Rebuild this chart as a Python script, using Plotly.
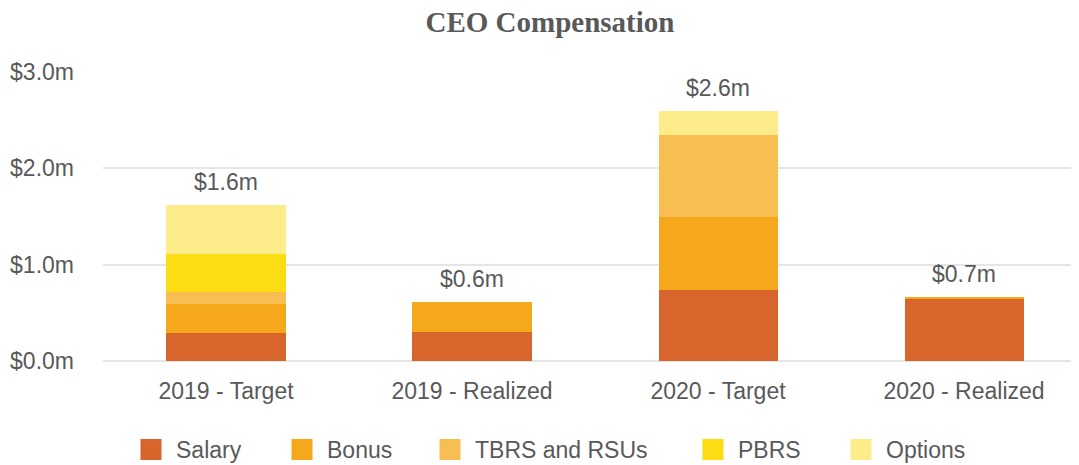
import plotly.graph_objects as go

categories = ["2019 - Target", "2019 - Realized", "2020 - Target", "2020 - Realized"]
series_names = ["Salary", "Bonus", "TBRS and RSUs", "PBRS", "Options"]
salary = [0.29, 0.30, 0.74, 0.645]
bonus = [0.30, 0.31, 0.75, 0.015]
tbrs_rsus = [0.13, 0.0, 0.86, 0.0]
pbrs = [0.39, 0.0, 0.0, 0.0]
options = [0.51, 0.0, 0.25, 0.0]
y_ticks = [0, 1, 2, 3]
y_tick_labels = ["$0.0m", "$1.0m", "$2.0m", "$3.0m"]

colors = ["#D8652B", "#F6A81C", "#F8BE52", "#FCDC12", "#FDEC8A"]
series = [salary, bonus, tbrs_rsus, pbrs, options]
legend_square_left = [136, 287, 435, 698, 846]  # page px of each legend key
gray = "#595959"
FONT = "Liberation Sans, Arial, sans-serif"
OFF = 8  # page body margin
W, H = 1079, 465

fig = go.Figure()
for name, vals, col in zip(series_names, series, colors):
    fig.add_trace(go.Bar(
        x=categories, y=vals, name=name, marker=dict(color=col, line=dict(width=0)),
        width=0.484, showlegend=False,
    ))

legend_layouts = {}
for i, (name, col, lx) in enumerate(zip(series_names, colors, legend_square_left)):
    key = "legend" if i == 0 else f"legend{i + 1}"
    fig.add_trace(go.Scatter(
        x=[None], y=[None], mode="markers", name=name, legend=key,
        marker=dict(symbol="square", size=16, color=col, line=dict(color=col, width=8)),
    ))
    legend_layouts[key] = dict(
        orientation="h", xref="container", yref="container",
        x=(lx - 10 - OFF) / W, xanchor="left", y=1 - (428 - OFF) / H, yanchor="top",
        font=dict(size=23, color=gray, family=FONT), itemwidth=40,
        bgcolor="rgba(0,0,0,0)",
    )

totals = [sum(v) for v in zip(*series)]
for c, t in zip(categories, totals):
    fig.add_annotation(x=c, y=t, text=f"${t:.1f}m", showarrow=False,
                       yanchor="bottom", yshift=8,
                       font=dict(size=23, color=gray, family=FONT))

fig.update_layout(
    width=W, height=H,
    margin=dict(l=103 - OFF, r=3 + OFF, t=72 - OFF, b=104 + OFF, autoexpand=False),
    barmode="stack",
    plot_bgcolor="white", paper_bgcolor="white",
    font=dict(family=FONT, size=23, color=gray),
    title=dict(text="<b>CEO Compensation</b>", x=(550 - OFF) / W, xanchor="center",
               y=1 - (22 - OFF) / H, yanchor="middle",
               font=dict(family="Liberation Serif, Times New Roman, serif", size=29, color=gray)),
    xaxis=dict(type="category", range=[-0.5, 3.455], showgrid=False, showline=False,
               ticks="", tickfont=dict(size=23, color=gray), ticklabelstandoff=14,
               automargin=False),
    yaxis=dict(range=[0, 3.0], tickvals=y_ticks, ticktext=y_tick_labels,
               showgrid=True, gridcolor="#E5E5E5", gridwidth=2,
               zeroline=True, zerolinecolor="#E5E5E5", zerolinewidth=2,
               showline=False, ticks="", ticklabelstandoff=28,
               tickfont=dict(size=23, color=gray), automargin=False),
    **legend_layouts,
)

fig.write_html("out.html")
